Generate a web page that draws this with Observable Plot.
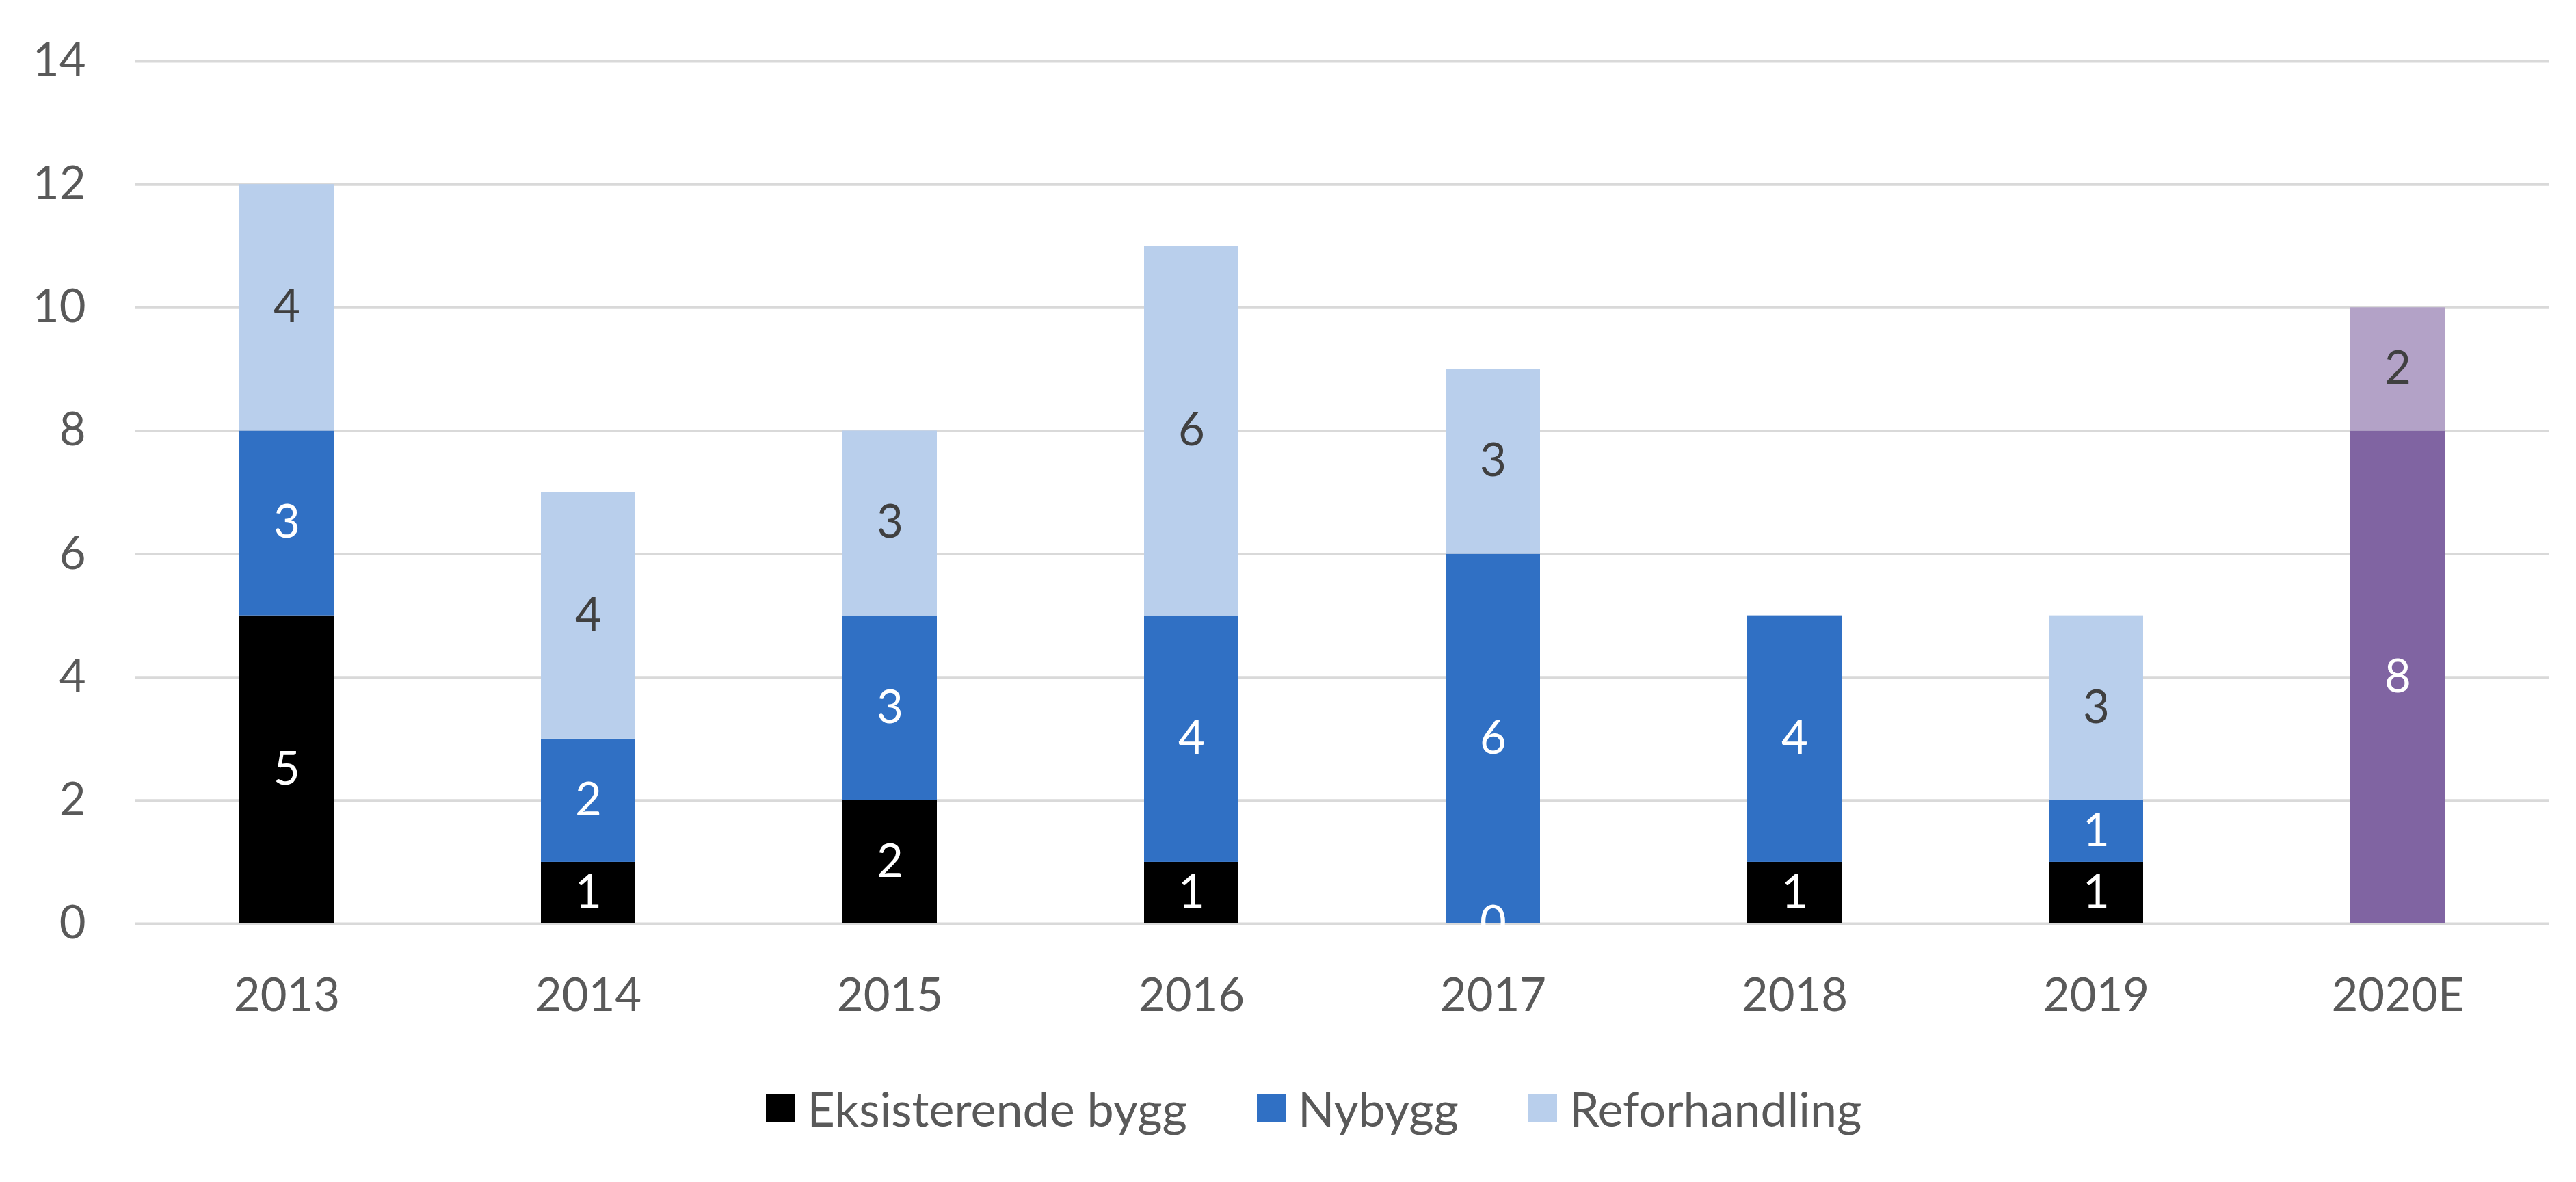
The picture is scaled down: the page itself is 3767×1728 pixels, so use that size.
<!DOCTYPE html>
<html>
<head>
<meta charset="utf-8">
<script src="https://cdn.jsdelivr.net/npm/d3@7"></script>
<script src="https://cdn.jsdelivr.net/npm/@observablehq/plot@0.6"></script>
<style>
  html, body { margin: 0; padding: 0; background: #ffffff; }
  body { width: 3767px; height: 1728px; overflow: hidden; font-family: Lato, "Open Sans", sans-serif; }
  #legend { display: flex; justify-content: center; align-items: center; padding-left: 76px; margin-top: 48px; font-size: 70px; color: #595959; }
  .item { display: flex; align-items: center; margin: 0 51px; }
  .sw { width: 42px; height: 42px; margin-right: 18px; }
</style>
</head>
<body>
<div id="chart"></div>
<div id="legend"></div>
<script>
const years = ["2013", "2014", "2015", "2016", "2017", "2018", "2019", "2020E"];
const seriesNames = ["Eksisterende bygg", "Nybygg", "Reforhandling"];
const eksisterende = [5, 1, 2, 1, 0, 1, 1, null];
const nybygg = [3, 2, 3, 4, 6, 4, 1, 8];
const reforhandling = [4, 4, 3, 6, 3, null, 3, 2];
const seriesColors = ["#000000", "#3070C4", "#B9CFEC"];
const estimateYear = "2020E";
const estimateColors = ["#000000", "#8064A2", "#B3A2C7"];
const labelColors = ["#FFFFFF", "#FFFFFF", "#404040"];
const yTicks = [0, 2, 4, 6, 8, 10, 12, 14];

const seriesValues = [eksisterende, nybygg, reforhandling];
const rows = [];
seriesNames.forEach((name, s) => {
  years.forEach((year, i) => {
    const v = seriesValues[s][i];
    if (v === null || v === undefined) return;
    rows.push({
      year, series: name, value: v,
      fill: year === estimateYear ? estimateColors[s] : seriesColors[s],
      textFill: labelColors[s]
    });
  });
});

const chart = Plot.plot({
  width: 3767,
  height: 1530,
  marginLeft: 197,
  marginRight: 39,
  marginTop: 89,
  marginBottom: 180,
  style: { fontFamily: "Lato, 'Open Sans', sans-serif", fontSize: "67px", color: "#595959", background: "#ffffff" },
  x: { domain: years, paddingInner: 0.687, paddingOuter: 0.3435, label: null, tickSize: 0, tickPadding: 80 },
  y: { domain: [0, 14], ticks: yTicks, label: null, tickSize: 0, tickPadding: 72 },
  color: { type: "identity" },
  marks: [
    Plot.ruleY(yTicks, { stroke: "#D9D9D9", strokeWidth: 4 }),
    Plot.barY(rows, Plot.stackY({ x: "year", y: "value", z: "series", fill: "fill", order: seriesNames })),
    Plot.text(rows, Plot.stackY({ x: "year", y: "value", z: "series", order: seriesNames, text: d => String(d.value), fill: "textFill", fontSize: 67 }))
  ]
});
document.getElementById("chart").appendChild(chart);

const legend = document.getElementById("legend");
seriesNames.forEach((name, s) => {
  const item = document.createElement("div");
  item.className = "item";
  const sw = document.createElement("div");
  sw.className = "sw";
  sw.style.background = seriesColors[s];
  const label = document.createElement("span");
  label.textContent = name;
  item.appendChild(sw);
  item.appendChild(label);
  legend.appendChild(item);
});
</script>
</body>
</html>
